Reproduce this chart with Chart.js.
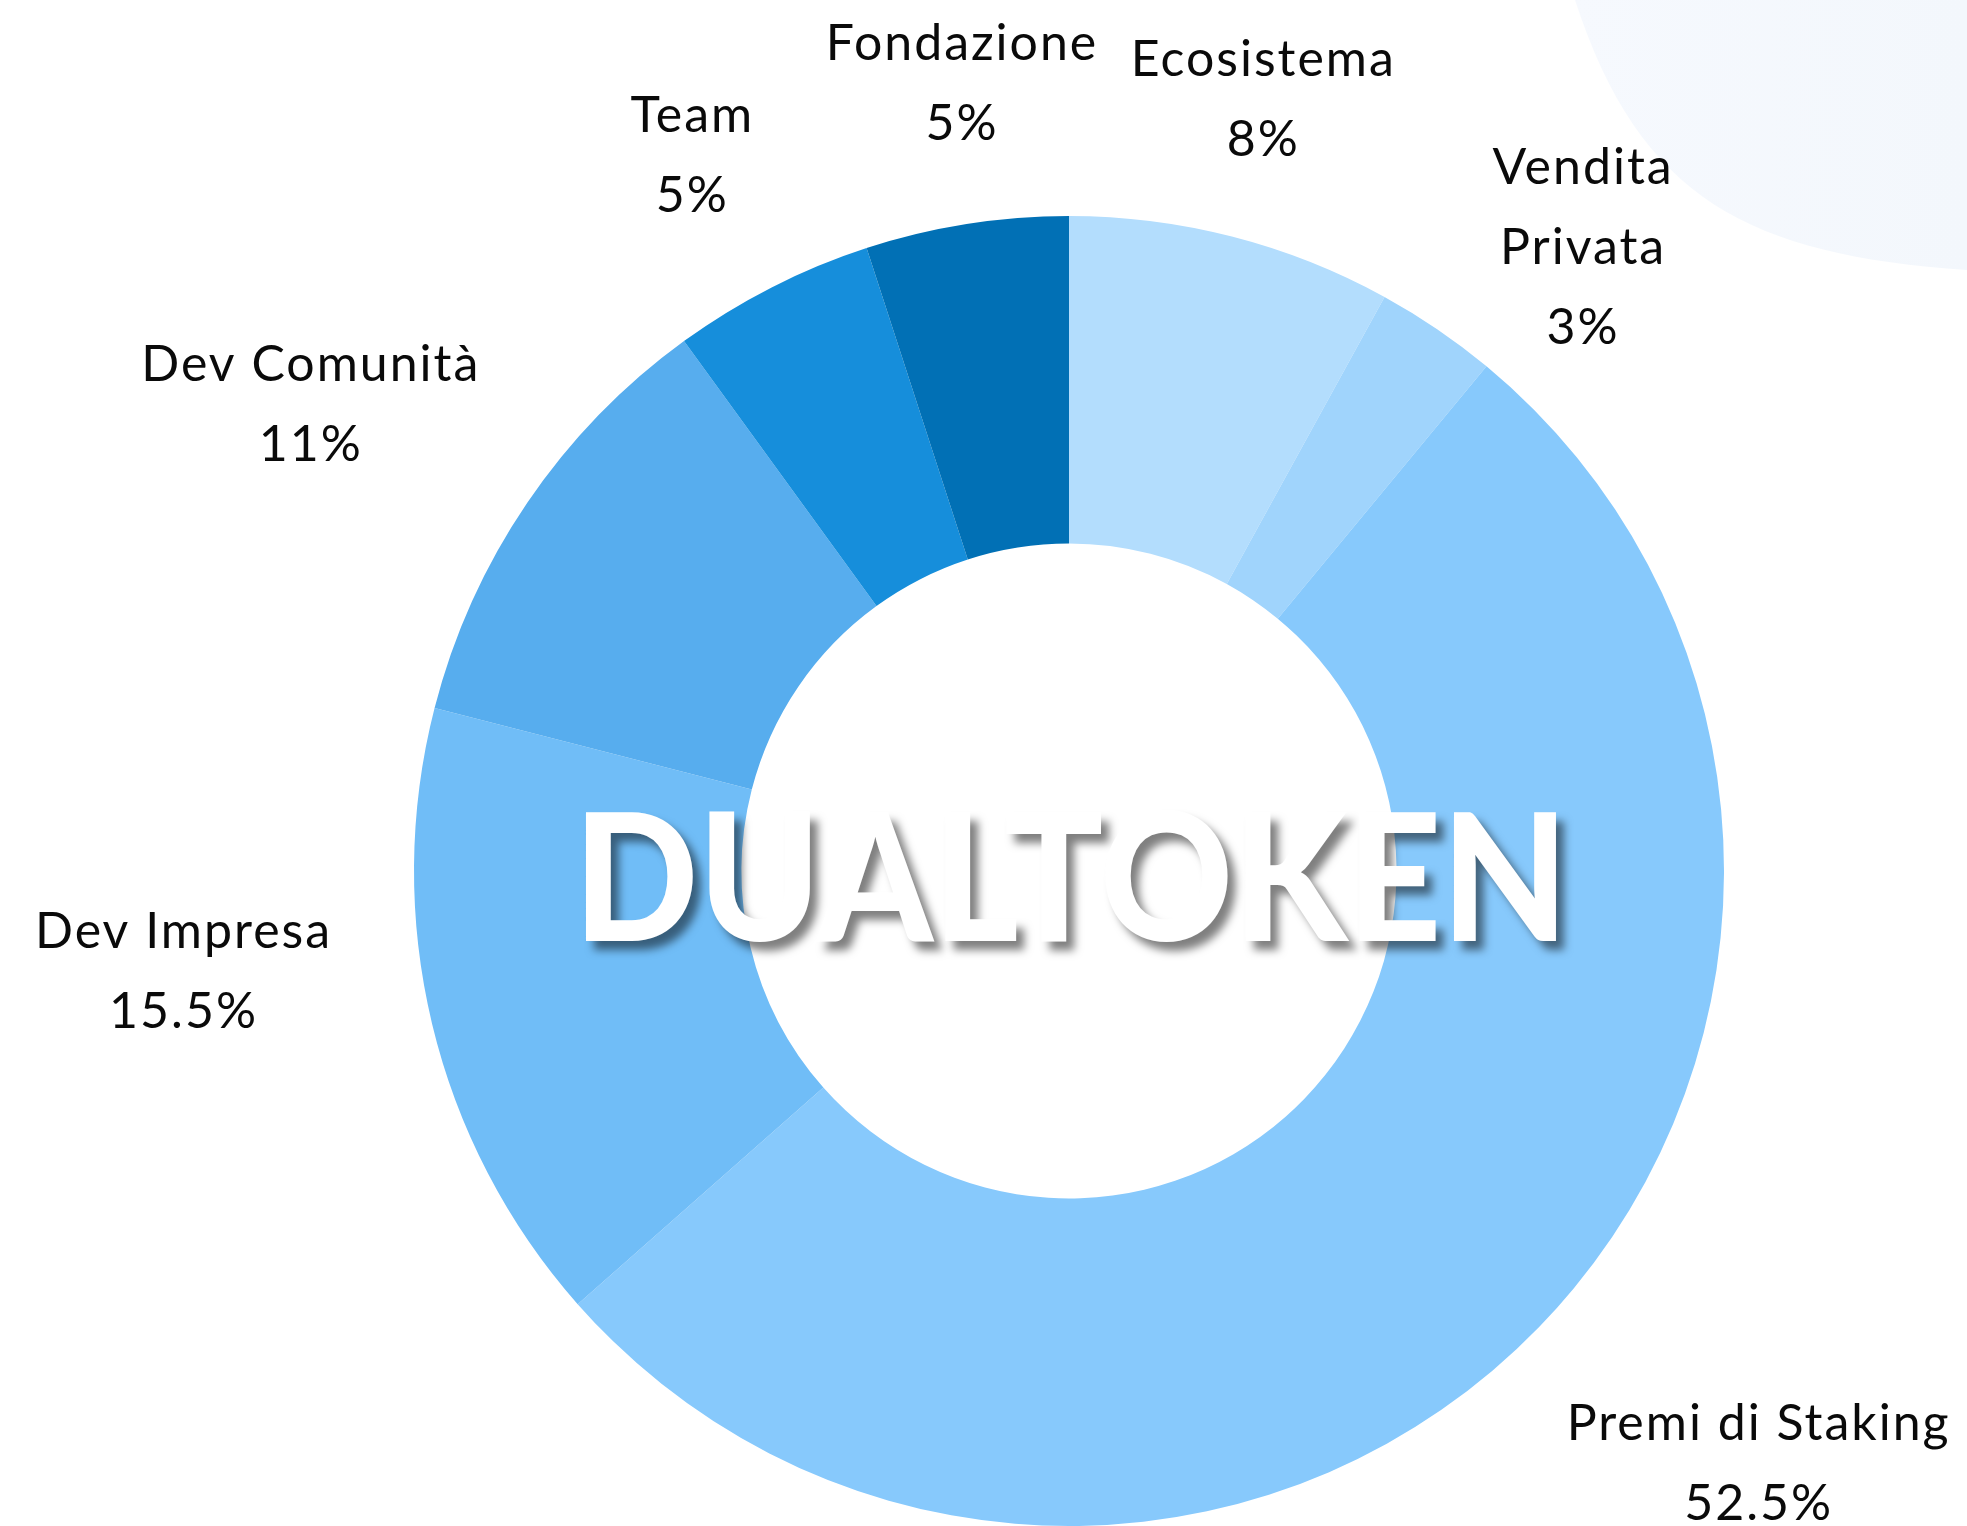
<!DOCTYPE html>
<html>
<head>
<meta charset="utf-8">
<script src="https://cdn.jsdelivr.net/npm/chart.js@4.4.1/dist/chart.umd.min.js"></script>
<style>
  html, body { margin: 0; padding: 0; background: #fff; }
  #wrap { width: 1967px; height: 1526px; position: relative; overflow: hidden; }
</style>
</head>
<body>
<div id="wrap"><canvas id="token-chart" width="1967" height="1526"></canvas></div>
<script>
// Token distribution (clockwise from 12 o'clock)
const categories = ['Ecosistema', ['Vendita', 'Privata'], 'Premi di Staking', 'Dev Impresa', 'Dev Comunità', 'Team', 'Fondazione'];
const shares = [8, 3, 52.5, 15.5, 11, 5, 5];
const sliceColors = ['#b3ddfd', '#a0d4fc', '#87c9fc', '#70bdf7', '#57adee', '#168edb', '#0170b5'];
const centerTitle = 'DUALTOKEN';

// Soft decoration in the top-right corner
const cornerBlob = {
  id: 'cornerBlob',
  beforeDraw(chart) {
    const ctx = chart.ctx;
    const w = chart.width;
    ctx.save();
    const grad = ctx.createLinearGradient(w - 400, 0, w, 0);
    grad.addColorStop(0, '#f6f9fe');
    grad.addColorStop(1, '#f3f7fc');
    ctx.fillStyle = grad;
    ctx.beginPath();
    ctx.moveTo(w - 392, 0);
    ctx.bezierCurveTo(w - 327, 200, w - 217, 255, w, 270);
    ctx.lineTo(w, 0);
    ctx.closePath();
    ctx.fill();
    ctx.restore();
  }
};

// Labels outside each slice: name + percentage
const outLabels = {
  id: 'outLabels',
  afterDatasetsDraw(chart, args, opts) {
    const ctx = chart.ctx;
    const meta = chart.getDatasetMeta(0);
    const values = chart.data.datasets[0].data;
    ctx.save();
    ctx.font = opts.font;
    ctx.letterSpacing = opts.spacing;
    ctx.fillStyle = opts.color;
    ctx.textAlign = 'center';
    ctx.textBaseline = 'middle';
    meta.data.forEach((arc, i) => {
      const lines = [].concat(chart.data.labels[i], values[i] + '%');
      const mid = (arc.startAngle + arc.endAngle) / 2;
      const vx = Math.cos(mid), vy = Math.sin(mid);
      const w = Math.max(...lines.map(l => ctx.measureText(l).width));
      const h = lines.length * opts.lineHeight;
      const vs = 1 / Math.max(Math.abs(vx), Math.abs(vy));
      const [nx, ny] = opts.nudge[i] || [0, 0];
      const cx = arc.x + vx * (arc.outerRadius + opts.offset) + w / 2 * vx * vs + nx;
      const cy = arc.y + vy * (arc.outerRadius + opts.offset) + h / 2 * vy * vs + ny;
      lines.forEach((l, j) => {
        ctx.fillText(l, cx, cy + (j - (lines.length - 1) / 2) * opts.lineHeight);
      });
    });
    ctx.restore();
  }
};

// Big title in the middle of the ring
const centerText = {
  id: 'centerText',
  afterDraw(chart, args, opts) {
    const ctx = chart.ctx;
    const arc = chart.getDatasetMeta(0).data[0];
    ctx.save();
    ctx.font = opts.font;
    ctx.textAlign = 'center';
    ctx.textBaseline = 'alphabetic';
    const natural = ctx.measureText(opts.text).width;
    const sx = opts.width / natural;
    ctx.translate(arc.x + 2, arc.y + opts.baseline);
    ctx.scale(sx, 1);
    ctx.shadowColor = 'rgba(0, 0, 0, 0.5)';
    ctx.shadowBlur = 8;
    ctx.shadowOffsetX = 8;
    ctx.shadowOffsetY = 9;
    ctx.fillStyle = '#ffffff';
    ctx.fillText(opts.text, 0, 0);
    ctx.restore();
  }
};

new Chart(document.getElementById('token-chart'), {
  type: 'doughnut',
  data: {
    labels: categories,
    datasets: [{
      data: shares,
      backgroundColor: sliceColors,
      borderWidth: 0
    }]
  },
  options: {
    responsive: false,
    animation: false,
    cutout: '50%',
    layout: { padding: { top: 216, bottom: 0, left: 400, right: 229 } },
    plugins: {
      legend: { display: false },
      tooltip: { enabled: false },
      outLabels: {
        font: '50px Lato',
        spacing: '2px',
        color: '#0a0a0a',
        lineHeight: 80,
        offset: 70,
        // small hand adjustments so labels sit like the original layout
        nudge: [[-20, 11], [45, 97], [-23, 11], [-32, -88], [11, -4], [-16, 11], [28, 9]]
      },
      centerText: { text: centerTitle, font: '900 178px Lato', width: 995, baseline: 70 }
    }
  },
  plugins: [cornerBlob, outLabels, centerText]
});
</script>
</body>
</html>
